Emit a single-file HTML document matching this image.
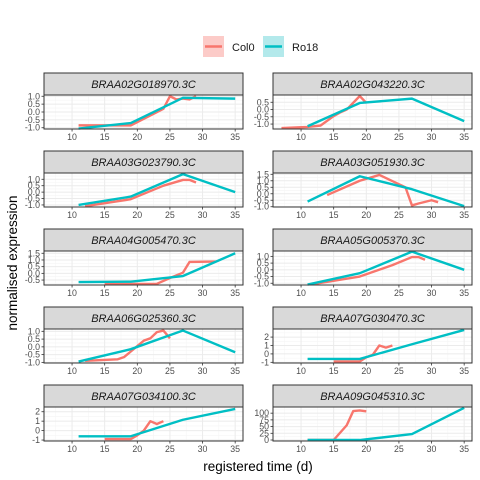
<!DOCTYPE html>
<html><head><meta charset="utf-8"><style>
body{margin:0;background:#fff;}
svg{display:block;font-family:"Liberation Sans",sans-serif;}
</style></head><body>
<svg id="chart" width="480" height="480"></svg>
<script>
const panelNames=["BRAA02G018970.3C","BRAA02G043220.3C","BRAA03G023790.3C","BRAA03G051930.3C","BRAA04G005470.3C","BRAA05G005370.3C","BRAA06G025360.3C","BRAA07G030470.3C","BRAA07G034100.3C","BRAA09G045310.3C"];
const xTicks=[10,15,20,25,30,35];
const yTicks=[[-1,-0.5,0,0.5,1],[-1,-0.5,0,0.5],[-1,-0.5,0,0.5,1],[-1,-0.5,0,0.5,1,1.5],[-0.5,0,0.5,1,1.5],[-1,-0.5,0,0.5,1],[-1,-0.5,0,0.5,1],[-1,0,1,2],[-1,0,1,2],[0,25,50,75,100]];
const yDomains=[[-1.08,1.08],[-1.34,1.0],[-1.16,1.49],[-1.02,1.6],[-0.87,1.67],[-1.13,1.4],[-1.04,1.15],[-1.08,2.96],[-1.1,2.5],[-3.7,123]];
const col0X=[[11,19,24,25,26,27,28,29],[7,11,13,15,16,17,19,20],[12,19,24,27,28,29],[14,19,22,26,27,28,30,31],[15,23,25,27,28,32],[12,19,24,27,28,29],[12,17,18,19,20,21,22,23,24,25],[15,19,20,21,22,23,24],[15,19,20,21,22,23,24],[11,15,17,18,19,20]];
const col0Y=[[-0.85,-0.85,0.2,1.0,0.8,0.85,0.8,1.0],[-1.28,-1.2,-1.1,-0.45,-0.2,0.0,0.93,0.45],[-1.1,-0.55,0.5,0.95,0.95,0.75],[-0.1,1.0,1.45,0.5,-0.9,-0.75,-0.5,-0.65],[-0.8,-0.78,-0.35,0.05,0.85,0.88],[-1.05,-0.5,0.35,0.95,0.95,0.75],[-0.9,-0.8,-0.65,-0.3,0.05,0.4,0.55,0.95,1.05,0.55],[-0.9,-0.9,-0.4,-0.1,1.0,0.75,1.0],[-0.9,-0.9,-0.5,0.0,1.0,0.7,1.0],[0,0,55,108,110,107]];
const ro18X=[11,19,27,35];
const ro18Y=[[-1.05,-0.7,0.9,0.85],[-1.15,0.45,0.75,-0.8],[-1.0,-0.35,1.4,0.0],[-0.6,1.35,0.35,-0.95],[-0.65,-0.62,-0.2,1.5],[-1.1,-0.25,1.35,0.0],[-0.95,-0.15,1.05,-0.35],[-0.6,-0.6,1.15,2.85],[-0.6,-0.6,1.15,2.3],[0,0,22,120]];
const NS="http://www.w3.org/2000/svg";
const svg=document.getElementById('chart');
function mk(tag,attrs,parent,text){const e=document.createElementNS(NS,tag);for(const k in attrs)e.setAttribute(k,attrs[k]);if(text!==undefined)e.textContent=text;(parent||svg).appendChild(e);return e;}
const xDom=[5.7,36.2];
const colX=[[44,243],[273,472]];
const rowTop=[73,151,229,307,385];
const stripH=22,plotH=34;
function fmt(v,t){if(Math.abs(t[t.length-1])>=10)return String(v);const frac=t.some(q=>q%1!==0);return frac?v.toFixed(1):String(v);}
panelNames.forEach((name,i)=>{
  const r=Math.floor(i/2),c=i%2;
  const x0=colX[c][0],x1=colX[c][1];
  const sy=rowTop[r],py0=sy+stripH,py1=py0+plotH;
  const xs=v=>x0+(v-xDom[0])/(xDom[1]-xDom[0])*(x1-x0);
  const yd=yDomains[i];
  const ys=v=>py1-(v-yd[0])/(yd[1]-yd[0])*(py1-py0);
  const g=mk('g',{},svg);
  
  
  mk('rect',{x:x0,y:py0,width:x1-x0,height:plotH,fill:'#fff'},g);
  // minor grids
  for(let v=7.5;v<36;v+=5){const gl=mk('line',{x1:xs(v),x2:xs(v),y1:py0,y2:py1,stroke:'#F5F5F5','stroke-width':0.6},g);}
  const yt=yTicks[i];const st=yt[1]-yt[0];
  for(let v=yt[0]-st/2;v<=yd[1];v+=st){if(v>=yd[0])mk('line',{x1:x0,x2:x1,y1:ys(v),y2:ys(v),stroke:'#F5F5F5','stroke-width':0.6},g);}
  xTicks.forEach(v=>mk('line',{x1:xs(v),x2:xs(v),y1:py0,y2:py1,stroke:'#EBEBEB','stroke-width':1},g));
  yt.forEach(v=>{mk('line',{x1:x0,x2:x1,y1:ys(v),y2:ys(v),stroke:'#EBEBEB','stroke-width':1},g);
    mk('line',{x1:x0-2.5,x2:x0,y1:ys(v),y2:ys(v),stroke:'#333','stroke-width':0.8},g);
    const t=mk('text',{x:x0-4,y:ys(v)+3,'text-anchor':'end','font-size':8.8,fill:'#4D4D4D'},g,fmt(v,yt));
    
    });
  xTicks.forEach(v=>{mk('line',{x1:xs(v),x2:xs(v),y1:py1,y2:py1+2.5,stroke:'#333','stroke-width':0.8},g);
    const t=mk('text',{x:xs(v),y:py1+11,'text-anchor':'middle','font-size':8.8,fill:'#4D4D4D'},g,String(v));
    
    });
  // lines
  const rp=col0X[i].map((x,k)=>xs(x)+','+ys(col0Y[i][k])).join(' ');
  const l1=mk('polyline',{points:rp,fill:'none',stroke:'#F8766D','stroke-width':2.4,'stroke-linejoin':'round'},g);
  
  
  const tp=ro18X.map((x,k)=>xs(x)+','+ys(ro18Y[i][k])).join(' ');
  const l2=mk('polyline',{points:tp,fill:'none',stroke:'#00BFC4','stroke-width':2.4,'stroke-linejoin':'round'},g);
  
  
  mk('rect',{x:x0,y:py0,width:x1-x0,height:plotH,fill:'none',stroke:'#333','stroke-width':1},g);
  const s=mk('rect',{x:x0,y:sy,width:x1-x0,height:stripH,fill:'#D9D9D9',stroke:'#333','stroke-width':1},g);
  
  
  const st2=mk('text',{x:(x0+x1)/2,y:sy+15,'text-anchor':'middle','font-size':11,'font-style':'italic',fill:'#1A1A1A'},g,name);
  
  
});
</script>
<svg style="position:absolute;left:0;top:0" width="480" height="480">
<g font-family="Liberation Sans, sans-serif">
<g>
<rect x="203" y="36" width="21" height="21" fill="#FCCBC8"/><line x1="205" x2="222" y1="46.5" y2="46.5" stroke="#F8766D" stroke-width="2.4"/>
<text x="232" y="51" font-size="11" fill="#1A1A1A">Col0</text></g>
<g>
<rect x="263" y="36" width="21" height="21" fill="#B3E9EB"/><line x1="265" x2="282" y1="46.5" y2="46.5" stroke="#00BFC4" stroke-width="2.4"/>
<text x="292" y="51" font-size="11" fill="#1A1A1A">Ro18</text></g>
</g>
<text x="258" y="471" text-anchor="middle" font-size="13.5" font-family="Liberation Sans, sans-serif" fill="#000">registered time (d)</text>
<text transform="translate(17,263) rotate(-90)" text-anchor="middle" font-size="13.5" font-family="Liberation Sans, sans-serif" fill="#000">normalised expression</text>
</svg>
</body></html>
